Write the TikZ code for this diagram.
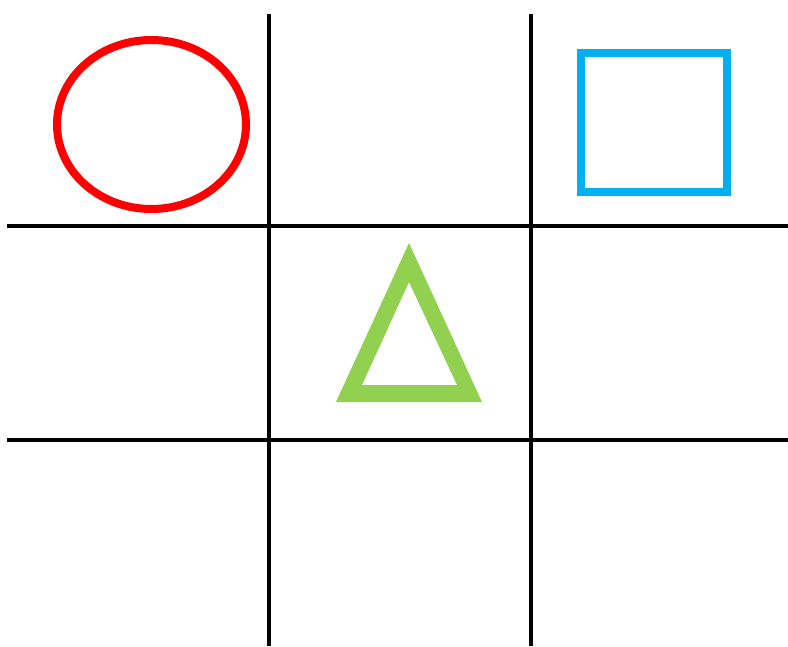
\documentclass[tikz,border=0pt]{standalone}
\definecolor{cred}{HTML}{FF0000}
\definecolor{cblue}{HTML}{00B0F0}
\definecolor{cgreen}{HTML}{92D050}
\tikzset{gridline/.style={line width=4pt,black},
  shapeline/.style={line width=8pt}}
\begin{document}
\begin{tikzpicture}[x=1pt,y=-1pt]
\useasboundingbox[fill=white] (0,0) rectangle (788,646);
\coordinate (v1t) at (268.5,14);
\coordinate (v1b) at (268.5,646);
\coordinate (v2t) at (530.5,14);
\coordinate (v2b) at (530.5,646);
\coordinate (h1l) at (7,225.5);
\coordinate (h1r) at (788,225.5);
\coordinate (h2l) at (7,440);
\coordinate (h2r) at (788,440);
\draw[gridline] (v1t) -- (v1b);
\draw[gridline] (v2t) -- (v2b);
\draw[gridline] (h1l) -- (h1r);
\draw[gridline] (h2l) -- (h2r);
% circle
\draw[shapeline,cred] (151.5,124.5) ellipse [x radius=94.5, y radius=84.5];
% square
\draw[shapeline,cblue] (581,53) rectangle (727,192);
% triangle
\fill[cgreen,even odd rule] (409,243) -- (482,402) -- (336,402) -- cycle
  (409,282) -- (457,385) -- (362,385) -- cycle;
\end{tikzpicture}
\end{document}
